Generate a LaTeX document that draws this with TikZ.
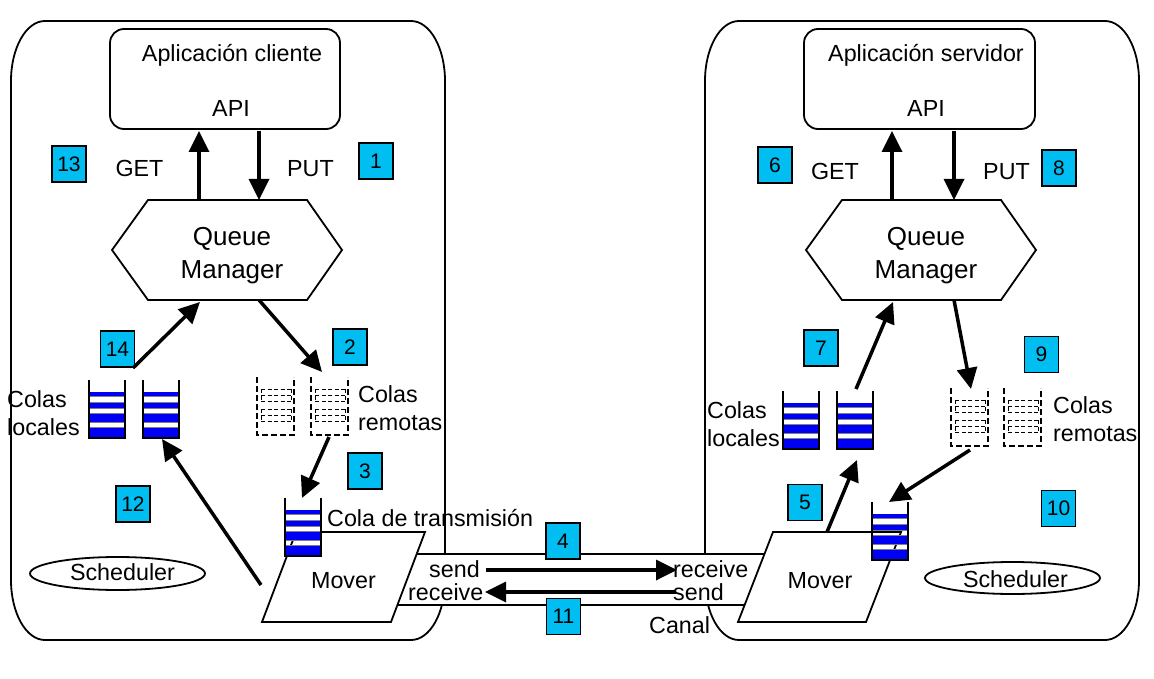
\documentclass[tikz,border=0pt]{standalone}
\usepackage{fontspec}
\setmainfont{Liberation Sans}
\usetikzlibrary{arrows.meta,shapes.geometric}
\definecolor{numcyan}{RGB}{0,190,242}
\definecolor{qblue}{RGB}{0,0,245}
\begin{document}
\begin{tikzpicture}[x=1pt,y=-1pt,
  lbl/.style={font=\fontsize{23.3}{28}\selectfont, inner sep=0pt},
  bigl/.style={font=\fontsize{26}{32}\selectfont, inner sep=0pt},
  nbox/.style={draw, line width=1.5pt, fill=numcyan, minimum width=34pt, minimum height=36pt, inner sep=0pt, font=\fontsize{21}{21}\selectfont},
  frame/.style={line width=1.8pt},
  arr/.style={line width=3.5pt, -{Triangle[length=21pt,width=20pt]}},
  localq/.pic={
    \fill[qblue] (1,12) rectangle (35,16);
    \fill[qblue] (1,22) rectangle (35,28);
    \fill[qblue] (1,33) rectangle (35,42);
    \fill[qblue] (1,47) rectangle (35,57);
    \draw[gray, line width=0.5pt] (1,16) -- (35,16) (1,22) -- (35,22) (1,28) -- (35,28) (1,33) -- (35,33) (1,42) -- (35,42) (1,47) -- (35,47);
    \draw[line width=2pt] (0,0) -- (0,58) -- (36,58) -- (36,0);
  },
  remoteq/.pic={
    \draw[line width=1pt, dash pattern=on 4pt off 2.5pt] (4,12) -- (34,12) (4,18) -- (34,18) (4,24) -- (34,24)
      (4,32) -- (34,32) (4,38) -- (34,38) (4,44) -- (34,44)
      (4,12) -- (4,24) (34,12) -- (34,24) (4,32) -- (4,44) (34,32) -- (34,44);
    \draw[line width=1.8pt, dash pattern=on 6pt off 3pt] (0,0) -- (0,58) -- (37,58) -- (37,0);
  }
]
\useasboundingbox (0,0) rectangle (1154,679);
% large frames
\draw[frame] (45,21) -- (411,21) .. controls (430,21) and (445,48) .. (445,81) -- (445,580) .. controls (445,613) and (430,640) .. (411,640) -- (45,640) .. controls (26,640) and (11,613) .. (11,580) -- (11,81) .. controls (11,48) and (26,21) .. (45,21) -- cycle;
\draw[frame] (739,21) -- (1105,21) .. controls (1124,21) and (1139,48) .. (1139,81) -- (1139,580) .. controls (1139,613) and (1124,640) .. (1105,640) -- (739,640) .. controls (720,640) and (705,613) .. (705,580) -- (705,81) .. controls (705,48) and (720,21) .. (739,21) -- cycle;
% channel
\fill[white] (380,554) rectangle (790,605);
\draw[frame] (380,554) -- (790,554) (380,605) -- (790,605);
% application boxes
\node[draw, frame, rounded corners=14pt, minimum width=230pt, minimum height=100pt] (appL) at (225,79) {};
\node[draw, frame, rounded corners=14pt, minimum width=231pt, minimum height=100pt] (appR) at (919.5,79) {};
\node[lbl, anchor=base] (appLt) at (232,62) {Aplicación cliente};
\node[lbl, anchor=base] (apiL) at (231,117) {API};
\node[lbl, anchor=base] (appRt) at (926,62) {Aplicación servidor};
\node[lbl, anchor=base] (apiR) at (926,117) {API};
% queue managers
\draw[frame] (112,250) -- (148,200) -- (307,200) -- (342,250) -- (307,300) -- (148,300) -- cycle;
\draw[frame] (806,250) -- (842,200) -- (1001,200) -- (1036,250) -- (1001,300) -- (842,300) -- cycle;
\node[bigl, anchor=base] (qmL1) at (232,246) {Queue};
\node[bigl, anchor=base] (qmL2) at (232,278) {Manager};
\node[bigl, anchor=base] (qmR1) at (926,246) {Queue};
\node[bigl, anchor=base] (qmR2) at (926,278) {Manager};
% GET / PUT
\node[lbl, anchor=base] (getL) at (139.5,177) {GET};
\node[lbl, anchor=base] (putL) at (310.5,177) {PUT};
\node[lbl, anchor=base] (getR) at (835,180) {GET};
\node[lbl, anchor=base] (putR) at (1006.5,180) {PUT};
% movers
\draw[frame, fill=white] (262,622) -- (391,622) -- (425,532) -- (296,532) -- cycle;
\draw[frame, fill=white] (738,622) -- (866,622) -- (901,532) -- (773,532) -- cycle;
\node[lbl, anchor=base] (movL) at (343.5,588) {Mover};
\node[lbl, anchor=base] (movR) at (820,588) {Mover};
% queues
\pic at (89,380) {localq};
\pic at (143,380) {localq};
\pic at (783,391) {localq};
\pic at (837,391) {localq};
\pic at (285,498) {localq};
\pic at (872,502) {localq};
\pic at (257,377) {remoteq};
\pic at (311,377) {remoteq};
\pic at (951,388) {remoteq};
\pic at (1004,388) {remoteq};
% queue labels
\node[lbl, anchor=base west] (clL1) at (7,407) {Colas};
\node[lbl, anchor=base west] (clL2) at (7,435) {locales};
\node[lbl, anchor=base west] (crL1) at (358,402) {Colas};
\node[lbl, anchor=base west] (crL2) at (358,430) {remotas};
\node[lbl, anchor=base west] (ctL) at (327,526) {Cola de transmisión};
\node[lbl, anchor=base west] (clR1) at (707,418) {Colas};
\node[lbl, anchor=base west] (clR2) at (707,446) {locales};
\node[lbl, anchor=base west] (crR1) at (1053,413) {Colas};
\node[lbl, anchor=base west] (crR2) at (1053,441) {remotas};
% schedulers
\node[draw, frame, ellipse, minimum width=175pt, minimum height=33pt, inner sep=0pt] (schL) at (117.5,573.5) {};
\node[draw, frame, ellipse, minimum width=175pt, minimum height=32pt, inner sep=0pt] (schR) at (1012.5,578) {};
\node[lbl, anchor=base] (schLt) at (122.5,580) {Scheduler};
\node[lbl, anchor=base] (schRt) at (1015.5,587) {Scheduler};
% channel labels
\node[lbl, anchor=base west] (sendL) at (429,577) {send};
\node[lbl, anchor=base west] (recvL) at (408,600) {receive};
\node[lbl, anchor=base west] (recvR) at (673,577) {receive};
\node[lbl, anchor=base west] (sendR) at (673,600) {send};
\node[lbl, anchor=base west] (canal) at (649,633) {Canal};
% numbered boxes
\node[nbox] (n13) at (69,164) {13};
\node[nbox] (n1) at (376,161) {1};
\node[nbox] (n14) at (117.5,349) {14};
\node[nbox] (n2) at (350,347) {2};
\node[nbox] (n3) at (365,471) {3};
\node[nbox] (n12) at (133,504) {12};
\node[nbox] (n4) at (563,541) {4};
\node[nbox] (n11) at (563.5,616.5) {11};
\node[nbox] (n6) at (775,165) {6};
\node[nbox] (n8) at (1059,168) {8};
\node[nbox] (n7) at (821,348) {7};
\node[nbox] (n9) at (1041.5,354.5) {9};
\node[nbox] (n5) at (805,502.5) {5};
\node[nbox] (n10) at (1058.5,508.5) {10};
% connector end points
\coordinate (gL1) at (199,200); \coordinate (gL2) at (199,131);
\coordinate (pL1) at (259,131); \coordinate (pL2) at (259,200);
\coordinate (gR1) at (892,200); \coordinate (gR2) at (892,131);
\coordinate (pR1) at (954,131); \coordinate (pR2) at (954,200);
\coordinate (a14s) at (133,368); \coordinate (a14e) at (200,302);
\coordinate (a2s) at (259,300); \coordinate (a2e) at (322,372);
\coordinate (a3s) at (329,437); \coordinate (a3e) at (302,498);
\coordinate (a12s) at (261,585); \coordinate (a12e) at (162,439);
\coordinate (a7s) at (856,389); \coordinate (a7e) at (893,302);
\coordinate (a9s) at (954,300); \coordinate (a9e) at (971,389);
\coordinate (a10s) at (970,450); \coordinate (a10e) at (889,502);
\coordinate (a5s) at (827,532); \coordinate (a5e) at (857,460);
\coordinate (c1s) at (486,570); \coordinate (c1e) at (677,570);
\coordinate (c2s) at (676,592); \coordinate (c2e) at (485,592);
% connectors
\draw[arr] (gL1) -- (gL2);
\draw[arr] (pL1) -- (pL2);
\draw[arr] (gR1) -- (gR2);
\draw[arr] (pR1) -- (pR2);
\draw[arr] (a14s) -- (a14e);
\draw[arr] (a2s) -- (a2e);
\draw[arr] (a3s) -- (a3e);
\draw[arr] (a12s) -- (a12e);
\draw[arr] (a7s) -- (a7e);
\draw[arr] (a9s) -- (a9e);
\draw[arr] (a10s) -- (a10e);
\draw[arr] (a5s) -- (a5e);
\draw[arr] (c1s) -- (c1e);
\draw[arr] (c2s) -- (c2e);
\end{tikzpicture}
\end{document}
